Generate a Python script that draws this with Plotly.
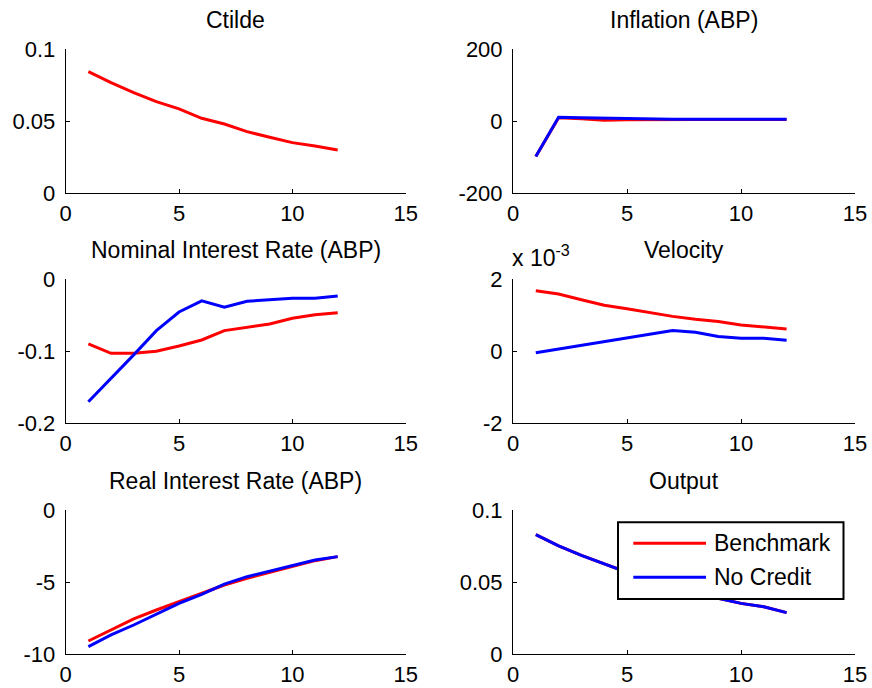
import plotly.graph_objects as go

# ---- data -------------------------------------------------------------
periods = list(range(1, 13))

ctilde_bench = [0.0845, 0.0769, 0.0699, 0.0637, 0.0586, 0.0521,
                0.0481, 0.0428, 0.0389, 0.0352, 0.0329, 0.0301]

inflation_bench = [-98, 10, 7, 3, 4, 5, 5, 5, 5, 5, 5, 5]
inflation_nocredit = [-98, 11, 10, 9, 6, 6, 6, 6, 6, 6, 6, 6]

nominal_bench = [-0.0898, -0.1028, -0.1028, -0.1000, -0.0926, -0.0843,
                 -0.0713, -0.0667, -0.0620, -0.0542, -0.0491, -0.0463]
nominal_nocredit = [-0.1700, -0.1380, -0.1050, -0.0713, -0.0454, -0.0300,
                    -0.0389, -0.0306, -0.0287, -0.0264, -0.0264, -0.0231]

velocity_bench = [0.00168, 0.00159, 0.00143, 0.00128, 0.00118, 0.00107,
                  0.00097, 0.00089, 0.00083, 0.00073, 0.00068, 0.00062]
velocity_nocredit = [-0.00004, 0.000065, 0.00018, 0.00028, 0.00039, 0.00049,
                     0.00058, 0.00053, 0.00041, 0.00036, 0.00036, 0.00031]

real_bench = [-9.08, -8.31, -7.55, -6.93, -6.35, -5.73,
              -5.20, -4.73, -4.32, -3.88, -3.51, -3.23]
real_nocredit = [-9.47, -8.66, -7.97, -7.20, -6.47, -5.84,
                 -5.13, -4.62, -4.23, -3.86, -3.46, -3.23]

output_bench = [0.0829, 0.0751, 0.0686, 0.0626, 0.0566, 0.0510,
                0.0465, 0.0425, 0.0388, 0.0353, 0.0330, 0.0289]
output_nocredit = [0.0829, 0.0751, 0.0686, 0.0626, 0.0566, 0.0510,
                   0.0465, 0.0425, 0.0388, 0.0353, 0.0330, 0.0289]

x_ticks = [0, 5, 10, 15]
x_ticktext = ["0", "5", "10", "15"]

panels = [
    # title, benchmark, no-credit, y range, y ticks, y tick text
    ("Ctilde", ctilde_bench, None, [0, 0.1], [0, 0.05, 0.1], ["0", "0.05", "0.1"]),
    ("Inflation (ABP)", inflation_bench, inflation_nocredit, [-200, 200],
     [-200, 0, 200], ["-200", "0", "200"]),
    ("Nominal Interest Rate (ABP)", nominal_bench, nominal_nocredit, [-0.2, 0],
     [-0.2, -0.1, 0], ["-0.2", "-0.1", "0"]),
    ("Velocity", velocity_bench, velocity_nocredit, [-0.002, 0.002],
     [-0.002, 0, 0.002], ["-2", "0", "2"]),
    ("Real Interest Rate (ABP)", real_bench, real_nocredit, [-10, 0],
     [-10, -5, 0], ["-10", "-5", "0"]),
    ("Output", output_bench, output_nocredit, [0, 0.1], [0, 0.05, 0.1],
     ["0", "0.05", "0.1"]),
]

series_names = ["Benchmark", "No Credit"]
series_colors = ["#ff0000", "#0000ff"]

# ---- layout geometry (pixels) ----------------------------------------
W, H = 872, 688
col_px = [(65.7, 405.7), (513.0, 855.0)]
row_px = [(49.3, 193.3), (279.3, 423.3), (510.0, 654.3)]


def px_x(p):
    return p / W


def px_y(p):
    return 1 - p / H


FONT = "Liberation Sans, Arial, Helvetica, sans-serif"
TICK_SIZE = 22
TITLE_SIZE = 23

fig = go.Figure()
layout = dict(
    width=W, height=H,
    margin=dict(l=0, r=0, t=0, b=0, autoexpand=False),
    paper_bgcolor="white", plot_bgcolor="white",
    showlegend=False,
    font=dict(family=FONT, size=TICK_SIZE, color="black"),
)
annotations = []
shapes = []

for i, (title, bench, nocred, yr, yt, ytt) in enumerate(panels):
    r, c = divmod(i, 2)
    n = i + 1
    xa = "x" if n == 1 else f"x{n}"
    ya = "y" if n == 1 else f"y{n}"
    x0, x1 = col_px[c]
    y0, y1 = row_px[r]

    fig.add_trace(go.Scatter(x=periods, y=bench, mode="lines",
                             line=dict(color=series_colors[0], width=3),
                             name=series_names[0], xaxis=xa, yaxis=ya))
    if nocred is not None:
        fig.add_trace(go.Scatter(x=periods, y=nocred, mode="lines",
                                 line=dict(color=series_colors[1], width=3),
                                 name=series_names[1], xaxis=xa, yaxis=ya))

    common = dict(showgrid=False, zeroline=False, showline=True,
                  linecolor="black", linewidth=1, ticks="inside",
                  ticklen=4, tickwidth=1, tickcolor="black",
                  tickfont=dict(family=FONT, size=TICK_SIZE, color="black"),
                  fixedrange=True, automargin=False)
    layout["xaxis" if n == 1 else f"xaxis{n}"] = dict(
        domain=[px_x(x0), px_x(x1)], anchor=ya, range=[0, 15],
        tickmode="array", tickvals=x_ticks, ticktext=x_ticktext,
        ticklabelstandoff=0, **common)
    layout["yaxis" if n == 1 else f"yaxis{n}"] = dict(
        domain=[px_y(y1), px_y(y0)], anchor=xa, range=yr,
        tickmode="array", tickvals=yt, ticktext=ytt,
        ticklabelstandoff=5, **common)

    annotations.append(dict(
        text=title, xref="paper", yref="paper",
        x=px_x((x0 + x1) / 2), y=px_y(y0 - 14), xanchor="center",
        yanchor="bottom", showarrow=False,
        font=dict(family=FONT, size=TITLE_SIZE, color="black")))

# exponent label on the Velocity axis
annotations.append(dict(
    text="x 10<sup>-3</sup>", xref="paper", yref="paper",
    x=px_x(510), y=px_y(273), xanchor="left", yanchor="bottom",
    showarrow=False, font=dict(family=FONT, size=TITLE_SIZE, color="black")))

# legend box in the Output panel
lg_x0, lg_x1, lg_y0, lg_y1 = 618, 843.5, 522.3, 599
shapes.append(dict(type="rect", xref="paper", yref="paper",
                   x0=px_x(lg_x0), x1=px_x(lg_x1), y0=px_y(lg_y1), y1=px_y(lg_y0),
                   line=dict(color="black", width=2), fillcolor="white",
                   layer="above"))
for k, (name, color, yy) in enumerate(zip(series_names, series_colors, [543.3, 577.3])):
    shapes.append(dict(type="line", xref="paper", yref="paper",
                       x0=px_x(633.3), x1=px_x(706), y0=px_y(yy), y1=px_y(yy),
                       line=dict(color=color, width=3), layer="above"))
    annotations.append(dict(
        text=name, xref="paper", yref="paper", x=px_x(712), y=px_y(yy),
        xanchor="left", yanchor="middle", showarrow=False,
        font=dict(family=FONT, size=TITLE_SIZE, color="black")))

layout["annotations"] = annotations
layout["shapes"] = shapes
fig.update_layout(**layout)

fig.write_html("out.html")
